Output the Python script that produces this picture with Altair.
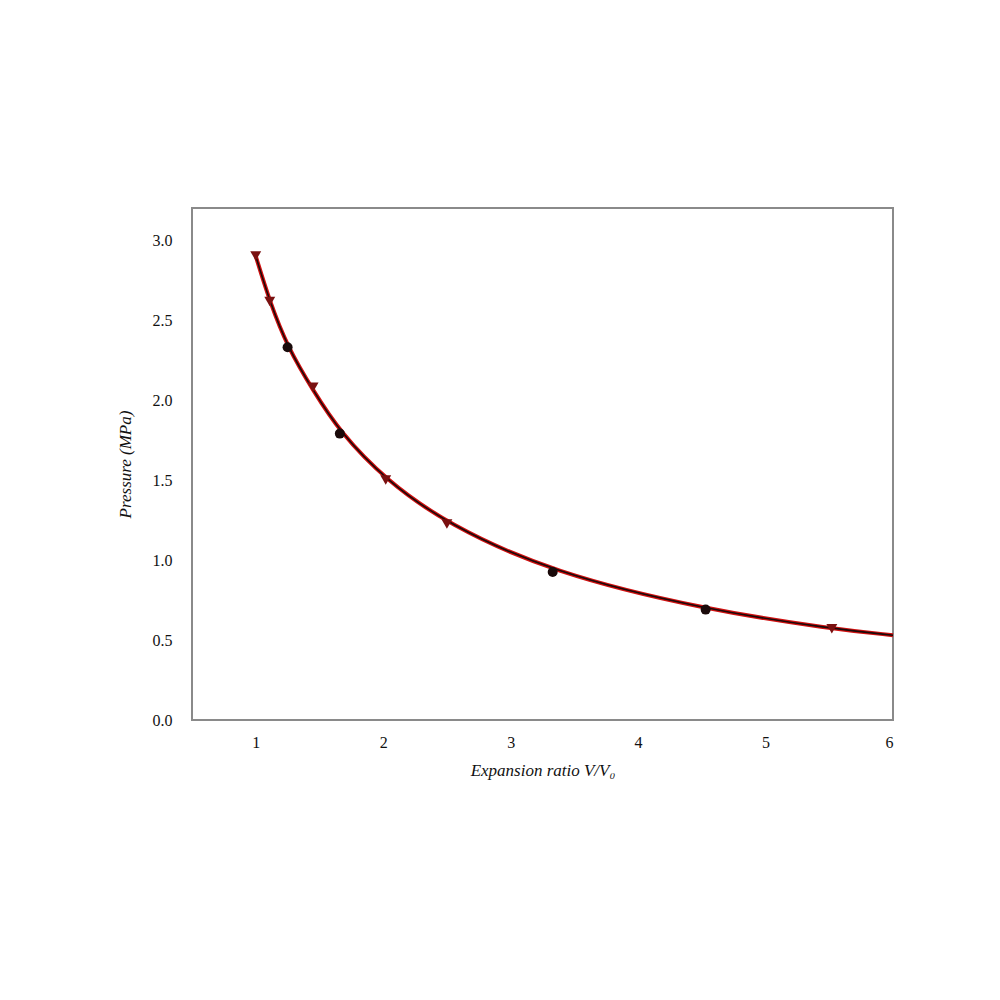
import altair as alt
import pandas as pd

# Marker points
pt_x = [1.0, 1.11, 1.25, 1.45, 1.66, 2.02, 2.5, 3.33, 4.53, 5.52]
pt_y = [2.90, 2.615, 2.33, 2.08, 1.79, 1.50, 1.225, 0.925, 0.69, 0.57]
pt_kind = ["tri", "tri", "dot", "tri", "dot", "tri", "tri", "dot", "dot", "tri"]

# Curve points (line runs from x=1 to the right edge)
curve_x = [1.0, 1.11, 1.25, 1.45, 1.66, 2.02, 2.5, 3.33, 4.53, 5.52, 6.0]
curve_y = [2.90, 2.615, 2.33, 2.06, 1.80, 1.50, 1.225, 0.92, 0.69, 0.57, 0.53]

pts = pd.DataFrame({"x": pt_x, "y": pt_y, "kind": pt_kind})
curve = pd.DataFrame({"x": curve_x, "y": curve_y})

xs = alt.Scale(domain=[0.5, 6], nice=False, zero=False)
ys = alt.Scale(domain=[0, 3.2], nice=False)

xax = alt.Axis(values=[1, 2, 3, 4, 5, 6], format="d", grid=False, tickSize=0,
               labelPadding=14, labelFontSize=16, labelFont="Liberation Serif",
               labelColor="#111", title="Expansion ratio V/V₀", titleFontSize=17,
               titleFont="Liberation Serif", titleFontWeight="normal",
               titleFontStyle="italic", titleColor="#111", titlePadding=12,
               domain=False)
yax = alt.Axis(values=[0, 0.5, 1, 1.5, 2, 2.5, 3], format=".1f", grid=False,
               tickSize=0, labelPadding=20, labelFontSize=16,
               labelFont="Liberation Serif", labelColor="#111",
               title="Pressure (MPa)", titleFontSize=17, titleFont="Liberation Serif",
               titleFontWeight="normal", titleFontStyle="italic", titleColor="#111",
               titlePadding=18, domain=False)

red_line = alt.Chart(curve).mark_line(color="#d01010", strokeWidth=4,
                                      interpolate="basis").encode(
    x=alt.X("x:Q", scale=xs, axis=xax), y=alt.Y("y:Q", scale=ys, axis=yax))
black_line = alt.Chart(curve).mark_line(color="#1a0a0a", strokeWidth=1.6,
                                        interpolate="basis").encode(
    x=alt.X("x:Q", scale=xs), y=alt.Y("y:Q", scale=ys))

tri = alt.Chart(pts).transform_filter(alt.datum.kind == "tri").mark_point(
    shape="triangle-down", filled=True, size=120, color="#7a1010", opacity=1).encode(
    x=alt.X("x:Q", scale=xs), y=alt.Y("y:Q", scale=ys))
dot = alt.Chart(pts).transform_filter(alt.datum.kind == "dot").mark_point(
    shape="circle", filled=True, size=100, color="#1a0a0a", opacity=1).encode(
    x=alt.X("x:Q", scale=xs), y=alt.Y("y:Q", scale=ys))

chart = alt.layer(red_line, black_line, tri, dot).properties(
    width=701, height=512,
    background="white",
    autosize=alt.AutoSizeParams(type="none"),
    padding={"left": 184, "top": 200, "right": 80, "bottom": 200},
).configure_view(stroke="#8a8a8a", strokeWidth=2)

chart.save("out.html", embed_options={"renderer": "svg", "actions": False})
